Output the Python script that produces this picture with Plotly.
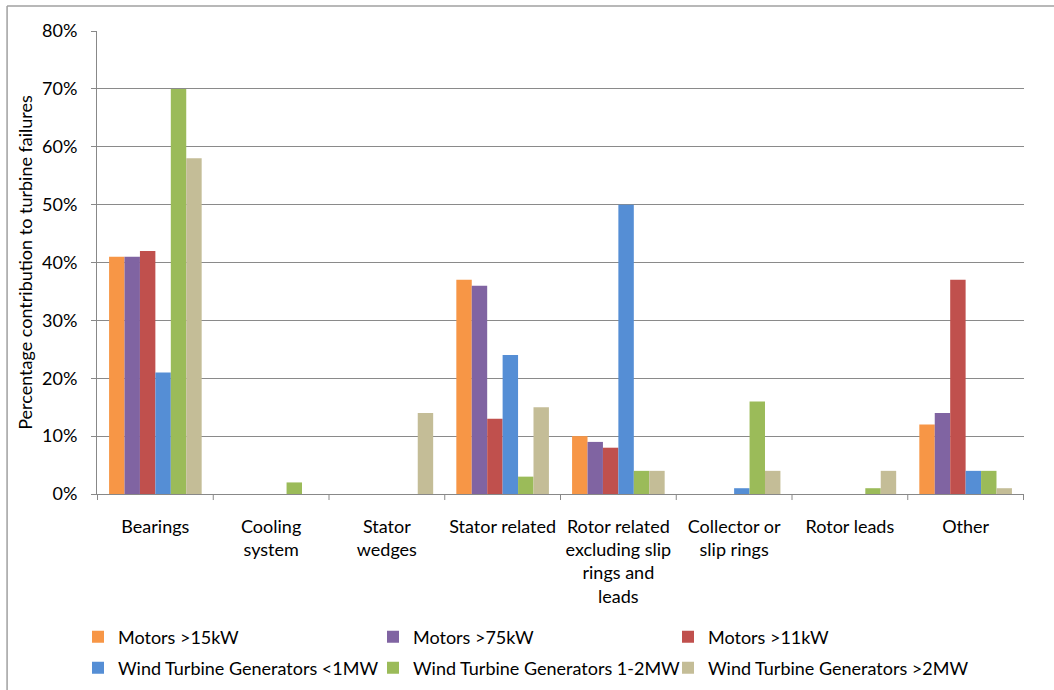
import plotly.graph_objects as go

categories = [
    "Bearings",
    "Cooling<br>system",
    "Stator<br>wedges",
    "Stator related",
    "Rotor related<br>excluding slip<br>rings and<br>leads",
    "Collector or<br>slip rings",
    "Rotor leads",
    "Other",
]

series_names = [
    "Motors >15kW",
    "Motors >75kW",
    "Motors >11kW",
    "Wind Turbine Generators <1MW",
    "Wind Turbine Generators 1-2MW",
    "Wind Turbine Generators >2MW",
]

motors_15kw = [41, 0, 0, 37, 10, 0, 0, 12]
motors_75kw = [41, 0, 0, 36, 9, 0, 0, 14]
motors_11kw = [42, 0, 0, 13, 8, 0, 0, 37]
wtg_lt_1mw = [21, 0, 0, 24, 50, 1, 0, 4]
wtg_1_2mw = [70, 2, 0, 3, 4, 16, 1, 4]
wtg_gt_2mw = [58, 0, 14, 15, 4, 4, 4, 1]

series_values = [motors_15kw, motors_75kw, motors_11kw, wtg_lt_1mw, wtg_1_2mw, wtg_gt_2mw]
colors = ["#F79646", "#8064A2", "#C0504D", "#558ED5", "#9BBB59", "#C4BD97"]

y_ticks = [0, 10, 20, 30, 40, 50, 60, 70, 80]
y_tick_labels = [f"{v}%" for v in y_ticks]

font_family = "Lato, 'Open Sans', sans-serif"
FS = 18
W, H = 1054, 690

# legend grid: 3 columns x 2 rows, one legend box per entry
legend_cols_px = [78, 373, 668]
legend_rows_px = [637, 668]

fig = go.Figure()
legend_layouts = {}
for i, (name, vals, col) in enumerate(zip(series_names, series_values, colors)):
    key = "legend" if i == 0 else f"legend{i + 1}"
    fig.add_trace(go.Bar(
        name=name,
        x=categories,
        y=vals,
        marker=dict(color=col, line=dict(width=0)),
        legend=key,
    ))
    legend_layouts[key] = dict(
        orientation="h",
        xref="container",
        yref="container",
        x=legend_cols_px[i % 3] / W,
        y=(H - legend_rows_px[i // 3]) / H,
        xanchor="left",
        yanchor="middle",
        font=dict(size=FS, family=font_family),
        bgcolor="rgba(0,0,0,0)",
    )

fig.update_layout(
    width=W,
    height=H,
    margin=dict(l=97, r=30, t=31, b=196),
    paper_bgcolor="white",
    plot_bgcolor="white",
    barmode="group",
    bargap=0.2,
    bargroupgap=0,
    font=dict(family=font_family, size=FS, color="#000000"),
    xaxis=dict(
        showgrid=False,
        showline=True,
        linecolor="#888888",
        linewidth=1,
        ticks="",
        tickfont=dict(size=FS),
        tickangle=0,
        ticklabelstandoff=16,
        automargin=False,
    ),
    yaxis=dict(
        range=[0, 80],
        tickvals=y_ticks,
        ticktext=y_tick_labels,
        showgrid=True,
        gridcolor="#8A8A8A",
        gridwidth=1,
        showline=True,
        linecolor="#888888",
        linewidth=1,
        ticks="outside",
        ticklen=5,
        tickcolor="#888888",
        zeroline=False,
        tickfont=dict(size=FS),
        ticklabelstandoff=10,
        automargin=False,
        title=dict(text="Percentage contribution to turbine failures", font=dict(size=FS), standoff=4),
    ),
    showlegend=True,
    **legend_layouts,
)

# category boundary tick marks under the x axis
n = len(categories)
for i in range(n + 1):
    fig.add_shape(
        type="line", xref="x", yref="paper",
        x0=i - 0.5, x1=i - 0.5, y0=0, y1=-0.013,
        line=dict(color="#888888", width=1),
    )

# chart frame (top and left edges)
fig.add_shape(type="line", xref="paper", yref="paper", x0=-0.097, x1=1.05, y0=1.054, y1=1.054,
              line=dict(color="#A0A0A0", width=1.5))
fig.add_shape(type="line", xref="paper", yref="paper", x0=-0.097, x1=-0.097, y0=1.054, y1=-0.43,
              line=dict(color="#A0A0A0", width=1.5))

fig.write_html("out.html")
